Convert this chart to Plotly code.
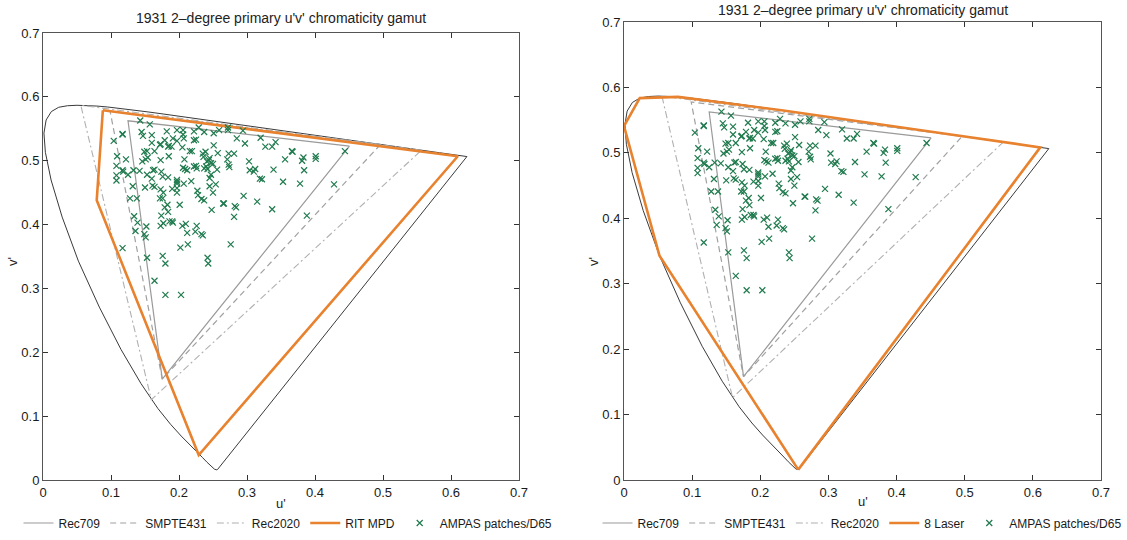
import plotly.graph_objects as go

# ---------------- data ----------------
# CIE 1931 2-degree spectral locus in u'v' (380 nm ... 700 nm)
locus_u = [0.2568, 0.2557, 0.2522, 0.2461, 0.2411, 0.2347, 0.2266, 0.2161, 0.2033, 0.1877,
           0.1690, 0.1441, 0.1147, 0.0828, 0.0521, 0.0282, 0.0119, 0.0035, 0.0014, 0.0046,
           0.0123, 0.0231, 0.0360, 0.0501, 0.0643, 0.0792, 0.0953, 0.1127, 0.1319, 0.1531,
           0.1766, 0.2026, 0.2312, 0.2623, 0.2960, 0.3315, 0.3681, 0.4035, 0.4692, 0.5203,
           0.5565, 0.5830, 0.6109, 0.6234]
locus_v = [0.0166, 0.0159, 0.0169, 0.0226, 0.0279, 0.0350, 0.0437, 0.0549, 0.0688, 0.0871,
           0.1119, 0.1510, 0.2044, 0.2708, 0.3427, 0.4117, 0.4698, 0.5131, 0.5432, 0.5638,
           0.5770, 0.5837, 0.5861, 0.5868, 0.5865, 0.5856, 0.5841, 0.5821, 0.5796, 0.5766,
           0.5732, 0.5694, 0.5651, 0.5604, 0.5554, 0.5501, 0.5446, 0.5393, 0.5296, 0.5219,
           0.5165, 0.5125, 0.5084, 0.5065]

rec709_u = [0.4507, 0.1250, 0.1754]
rec709_v = [0.5229, 0.5625, 0.1579]
smpte431_u = [0.4964, 0.0986, 0.1754]
smpte431_v = [0.5255, 0.5777, 0.1579]
rec2020_u = [0.5566, 0.0556, 0.1593]
rec2020_v = [0.5165, 0.5868, 0.1258]

rit_u = [0.088, 0.610, 0.229, 0.079]
rit_v = [0.579, 0.507, 0.039, 0.438]

laser_u = [0.2557, 0.0521, 0.0000, 0.0231, 0.0792, 0.2312, 0.4692, 0.6109]
laser_v = [0.0159, 0.3427, 0.5410, 0.5837, 0.5856, 0.5651, 0.5296, 0.5084]

patch_u = [0.143, 0.157, 0.182, 0.197, 0.206, 0.206, 0.222, 0.229, 0.259, 0.272, 0.272, 0.294,
           0.251, 0.237, 0.145, 0.147, 0.117, 0.117, 0.160,
           0.104, 0.179, 0.191, 0.207, 0.222, 0.225, 0.160, 0.172, 0.185, 0.184, 0.285, 0.297,
           0.320, 0.327, 0.337, 0.342, 0.149, 0.153, 0.164, 0.173, 0.219, 0.205, 0.239, 0.251,
           0.257, 0.273, 0.281, 0.367, 0.366,
           0.109, 0.122, 0.151, 0.154, 0.146, 0.173, 0.185, 0.189, 0.197, 0.208, 0.235, 0.236,
           0.245, 0.250, 0.244, 0.241, 0.247, 0.216, 0.226, 0.237, 0.271, 0.273, 0.303, 0.356,
           0.383, 0.381, 0.401, 0.401, 0.384, 0.444,
           0.108, 0.117, 0.118, 0.125, 0.133, 0.142, 0.162, 0.164, 0.174, 0.176, 0.153, 0.160,
           0.184, 0.197, 0.197, 0.207, 0.209, 0.206, 0.212, 0.222, 0.225, 0.240, 0.242, 0.247,
           0.245, 0.256, 0.274, 0.304, 0.312, 0.310, 0.322, 0.339, 0.353, 0.378,
           0.108, 0.108, 0.132, 0.150, 0.161, 0.164, 0.173, 0.177, 0.190, 0.197, 0.197, 0.197,
           0.218, 0.227, 0.228, 0.250, 0.245, 0.254, 0.233, 0.237, 0.265, 0.282, 0.295, 0.315,
           0.337, 0.428, 0.319,
           0.128, 0.138, 0.172, 0.176, 0.179, 0.183, 0.201, 0.184, 0.174, 0.190, 0.191, 0.248,
           0.266, 0.284, 0.281, 0.388,
           0.134, 0.139, 0.136, 0.152, 0.149, 0.173, 0.177, 0.186, 0.205, 0.210, 0.212, 0.226,
           0.224, 0.233, 0.235,
           0.117, 0.151, 0.153, 0.176, 0.180, 0.202, 0.213, 0.242, 0.243, 0.276, 0.164, 0.180,
           0.203]
patch_v = [0.563, 0.557, 0.546, 0.548, 0.548, 0.541, 0.546, 0.552, 0.548, 0.552, 0.548, 0.547,
           0.543, 0.545, 0.545, 0.539, 0.541, 0.542, 0.540,
           0.531, 0.532, 0.535, 0.535, 0.532, 0.533, 0.528, 0.525, 0.523, 0.522, 0.535, 0.527,
           0.536, 0.522, 0.522, 0.529, 0.514, 0.515, 0.515, 0.526, 0.515, 0.521, 0.514, 0.524,
           0.512, 0.511, 0.511, 0.514, 0.515,
           0.507, 0.502, 0.502, 0.505, 0.499, 0.501, 0.507, 0.522, 0.531, 0.502, 0.511, 0.506,
           0.504, 0.495, 0.501, 0.499, 0.496, 0.515, 0.488, 0.488, 0.502, 0.494, 0.499, 0.502,
           0.505, 0.500, 0.507, 0.503, 0.485, 0.515,
           0.492, 0.485, 0.483, 0.478, 0.485, 0.484, 0.485, 0.486, 0.483, 0.475, 0.478, 0.472,
           0.474, 0.470, 0.467, 0.464, 0.487, 0.489, 0.485, 0.491, 0.492, 0.491, 0.487, 0.478,
           0.473, 0.486, 0.490, 0.485, 0.487, 0.483, 0.471, 0.486, 0.467, 0.464,
           0.477, 0.469, 0.460, 0.458, 0.461, 0.459, 0.455, 0.450, 0.456, 0.464, 0.457, 0.450,
           0.468, 0.453, 0.446, 0.450, 0.460, 0.463, 0.440, 0.438, 0.433, 0.429, 0.445, 0.436,
           0.424, 0.463, 0.472,
           0.441, 0.441, 0.441, 0.441, 0.427, 0.431, 0.431, 0.420, 0.414, 0.405, 0.403, 0.423,
           0.433, 0.427, 0.412, 0.414,
           0.413, 0.403, 0.390, 0.397, 0.385, 0.398, 0.402, 0.405, 0.398, 0.401, 0.387, 0.398,
           0.389, 0.385, 0.383,
           0.363, 0.380, 0.348, 0.351, 0.339, 0.364, 0.369, 0.348, 0.339, 0.369, 0.312, 0.290,
           0.290]

legend_names_left = ["Rec709", "SMPTE431", "Rec2020", "RIT MPD", "AMPAS patches/D65"]
legend_names_right = ["Rec709", "SMPTE431", "Rec2020", "8 Laser", "AMPAS patches/D65"]
title_text = "1931 2\u2013degree primary u'v' chromaticity gamut"
tick_vals = [0, 0.1, 0.2, 0.3, 0.4, 0.5, 0.6, 0.7]
tick_text = ["0", "0.1", "0.2", "0.3", "0.4", "0.5", "0.6", "0.7"]

# ---------------- figure ----------------
W, H = 1127, 540
FONT = "Liberation Sans, Arial, sans-serif"
ORANGE = "#E8822E"
GREEN = "#1F7A4D"


def closed(a):
    return list(a) + [a[0]]


fig = go.Figure()

panels = [
    dict(xa="x", ya="y", leg="legend", names=legend_names_left, ou=rit_u, ov=rit_v),
    dict(xa="x2", ya="y2", leg="legend2", names=legend_names_right, ou=laser_u, ov=laser_v),
]

for p in panels:
    common = dict(xaxis=p["xa"], yaxis=p["ya"], legend=p["leg"])
    fig.add_trace(go.Scatter(x=closed(locus_u), y=closed(locus_v), mode="lines",
                             line=dict(color="#3a3a3a", width=1), showlegend=False,
                             hoverinfo="skip", **common))
    fig.add_trace(go.Scatter(x=closed(rec709_u), y=closed(rec709_v), mode="lines",
                             name=p["names"][0], line=dict(color="#9a9a9a", width=1.2), **common))
    fig.add_trace(go.Scatter(x=closed(smpte431_u), y=closed(smpte431_v), mode="lines",
                             name=p["names"][1],
                             line=dict(color="#a0a0a0", width=1.2, dash="6px,4px"), **common))
    fig.add_trace(go.Scatter(x=closed(rec2020_u), y=closed(rec2020_v), mode="lines",
                             name=p["names"][2],
                             line=dict(color="#b0b0b0", width=1.1, dash="7px,3px,2px,3px"), **common))
    fig.add_trace(go.Scatter(x=closed(p["ou"]), y=closed(p["ov"]), mode="lines",
                             name=p["names"][3], line=dict(color=ORANGE, width=2.6), **common))
    fig.add_trace(go.Scatter(x=patch_u, y=patch_v, mode="markers", name=p["names"][4],
                             marker=dict(symbol="x-thin-open", size=6, color=GREEN,
                                         line=dict(color=GREEN, width=1.2)), **common))

axis_common = dict(range=[0, 0.7], tickvals=tick_vals, ticktext=tick_text, showgrid=False,
                   zeroline=False, showline=True, linecolor="#555555", linewidth=1,
                   mirror="ticks", ticks="inside", ticklen=5, tickcolor="#333333",
                   automargin=False,
                   tickfont=dict(family=FONT, size=13, color="#1a1a1a"))

# pixel geometry
L1, R1, T1, B1 = 43, 519, 33, 480
L2, R2, T2, B2 = 624, 1101, 22, 480

fig.update_layout(
    width=W, height=H, margin=dict(l=0, r=0, t=0, b=0, autoexpand=False),
    paper_bgcolor="white", plot_bgcolor="white",
    font=dict(family=FONT, size=12, color="#222222"),
    xaxis=dict(domain=[L1 / W, R1 / W], anchor="y", **axis_common),
    yaxis=dict(domain=[1 - B1 / H, 1 - T1 / H], anchor="x", **axis_common),
    xaxis2=dict(domain=[L2 / W, R2 / W], anchor="y2", **axis_common),
    yaxis2=dict(domain=[1 - B2 / H, 1 - T2 / H], anchor="x2", **axis_common),
    legend=dict(orientation="h", x=288 / W, xanchor="center", y=1 - 523 / H, yanchor="middle",
                font=dict(family=FONT, size=12, color="#1a1a1a"), bgcolor="rgba(0,0,0,0)",
                itemwidth=30, tracegroupgap=0),
    legend2=dict(orientation="h", x=862 / W, xanchor="center", y=1 - 523 / H, yanchor="middle",
                 font=dict(family=FONT, size=12, color="#1a1a1a"), bgcolor="rgba(0,0,0,0)",
                 itemwidth=30, tracegroupgap=0),
    showlegend=True,
)

ann_font = dict(family=FONT, size=14, color="#222222")
lab_font = dict(family=FONT, size=13, color="#222222")
fig.add_annotation(text=title_text, x=(L1 + R1) / 2 / W, y=1 - 18 / H, xref="paper", yref="paper",
                   showarrow=False, font=ann_font, xanchor="center", yanchor="middle")
fig.add_annotation(text=title_text, x=(L2 + R2) / 2 / W, y=1 - 10 / H, xref="paper", yref="paper",
                   showarrow=False, font=ann_font, xanchor="center", yanchor="middle")
fig.add_annotation(text="u'", x=(L1 + R1) / 2 / W, y=1 - 503 / H, xref="paper", yref="paper",
                   showarrow=False, font=lab_font, xanchor="center", yanchor="middle")
fig.add_annotation(text="u'", x=(L2 + R2) / 2 / W, y=1 - 501 / H, xref="paper", yref="paper",
                   showarrow=False, font=lab_font, xanchor="center", yanchor="middle")
fig.add_annotation(text="v'", x=12 / W, y=1 - 262 / H, xref="paper", yref="paper", textangle=-90,
                   showarrow=False, font=lab_font, xanchor="center", yanchor="middle")
fig.add_annotation(text="v'", x=593 / W, y=1 - 262 / H, xref="paper", yref="paper", textangle=-90,
                   showarrow=False, font=lab_font, xanchor="center", yanchor="middle")

fig.write_html("out.html")
